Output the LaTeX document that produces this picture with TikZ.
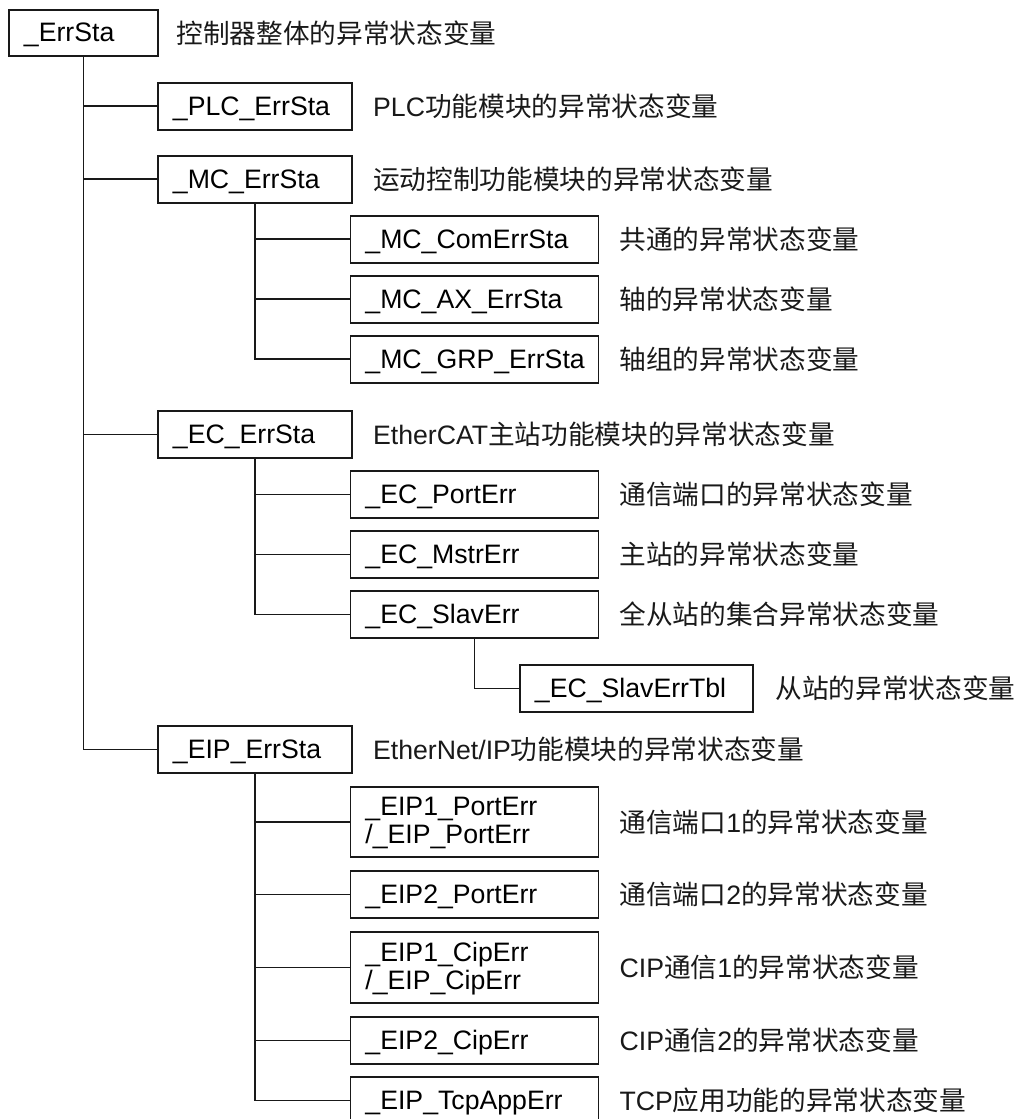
\documentclass[tikz,border=0pt]{standalone}
\usepackage{fontspec}
\setmainfont{Liberation Sans}
\newfontfamily\cjk{Noto Sans CJK SC}
\newcommand{\zh}[1]{{\cjk #1}}
\usepackage{xcolor}
\usepackage{tikz}
\usetikzlibrary{positioning}

\begin{document}
\begin{tikzpicture}[
    x=0.75pt, y=-0.75pt,
    varbox/.style={
        rectangle,
        draw=black!90,
        line width=1.4pt,
        anchor=north west,
        inner xsep=11.25pt,
        inner ysep=0pt,
        align=left,
        text height=18pt,
        text depth=4.5pt,
        minimum height=35.25pt,
        font=\fontsize{20}{21}\selectfont
    },
    twoline/.style={text height=18pt, text depth=27pt},
    rootbox/.style={varbox, text width=89.25pt, minimum height=34.5pt},
    lvlone/.style={varbox, text width=123pt},
    lvltwo/.style={varbox, text width=163.5pt},
    lvlthree/.style={varbox, text width=152.25pt},
    desc/.style={
        inner sep=0pt,
        anchor=west,
        text=black!90,
        font=\fontsize{20}{21}\selectfont
    },
    link/.style={draw=black!90, line width=1.4pt}
]
    \useasboundingbox (0,0) rectangle (1020,1119);

    % Variable boxes
    \node [rootbox] (root) at (8,9) {\_ErrSta};

    \node [lvlone] (plc) at (157,82) {\_PLC\_ErrSta};
    \node [lvlone] (mc) at (157,155) {\_MC\_ErrSta};
    \node [lvltwo] (mccom) at (349.5,215) {\_MC\_ComErrSta};
    \node [lvltwo] (mcax) at (349.5,275) {\_MC\_AX\_ErrSta};
    \node [lvltwo] (mcgrp) at (349.5,335) {\_MC\_GRP\_ErrSta};

    \node [lvlone] (ec) at (157,410) {\_EC\_ErrSta};
    \node [lvltwo] (ecport) at (349.5,470) {\_EC\_PortErr};
    \node [lvltwo] (ecmstr) at (349.5,530) {\_EC\_MstrErr};
    \node [lvltwo] (ecslav) at (349.5,590) {\_EC\_SlavErr};
    \node [lvlthree] (ecslavtbl) at (519,664) {\_EC\_SlavErrTbl};

    \node [lvlone] (eip) at (157,725) {\_EIP\_ErrSta};
    \node [lvltwo, twoline, minimum height=52.5pt] (eiponeport) at (349.5,786)
        {\parbox[t]{163.5pt}{\raggedright\_EIP1\_PortErr\\/\_EIP\_PortErr}};
    \node [lvltwo] (eiptwoport) at (349.5,870) {\_EIP2\_PortErr};
    \node [lvltwo, twoline, minimum height=53.25pt] (eiponecip) at (349.5,931)
        {\parbox[t]{163.5pt}{\raggedright\_EIP1\_CipErr\\/\_EIP\_CipErr}};
    \node [lvltwo] (eiptwocip) at (349.5,1016) {\_EIP2\_CipErr};
    \node [lvltwo] (eiptcp) at (349.5,1076) {\_EIP\_TcpAppErr};

    % Descriptions beside each box
    \node [desc, right=13pt of root.east] (droot) {\zh{控制器整体的异常状态变量}};
    \node [desc, right=15pt of plc.east] (dplc) {PLC\zh{功能模块的异常状态变量}};
    \node [desc, right=15pt of mc.east] (dmc) {\zh{运动控制功能模块的异常状态变量}};
    \node [desc, right=15pt of mccom.east] (dmccom) {\zh{共通的异常状态变量}};
    \node [desc, right=15pt of mcax.east] (dmcax) {\zh{轴的异常状态变量}};
    \node [desc, right=15pt of mcgrp.east] (dmcgrp) {\zh{轴组的异常状态变量}};
    \node [desc, right=15pt of ec.east] (dec) {EtherCAT\zh{主站功能模块的异常状态变量}};
    \node [desc, right=15pt of ecport.east] (decport) {\zh{通信端口的异常状态变量}};
    \node [desc, right=15pt of ecmstr.east] (decmstr) {\zh{主站的异常状态变量}};
    \node [desc, right=15pt of ecslav.east] (decslav) {\zh{全从站的集合异常状态变量}};
    \node [desc, right=16pt of ecslavtbl.east] (decslavtbl) {\zh{从站的异常状态变量}};
    \node [desc, right=15pt of eip.east] (deip) {EtherNet/IP\zh{功能模块的异常状态变量}};
    \node [desc, right=15pt of eiponeport.east] (deiponeport) {\zh{通信端口}1\zh{的异常状态变量}};
    \node [desc, right=15pt of eiptwoport.east] (deiptwoport) {\zh{通信端口}2\zh{的异常状态变量}};
    \node [desc, right=15pt of eiponecip.east] (deiponecip) {CIP\zh{通信}1\zh{的异常状态变量}};
    \node [desc, right=15pt of eiptwocip.east] (deiptwocip) {CIP\zh{通信}2\zh{的异常状态变量}};
    \node [desc, right=15pt of eiptcp.east] (deiptcp) {TCP\zh{应用功能的异常状态变量}};

    % Tree connections
    \draw [link] (root.south) |- (plc.west);
    \draw [link] (root.south) |- (mc.west);
    \draw [link] (root.south) |- (ec.west);
    \draw [link] (root.south) |- (eip.west);

    \draw [link] (mc.south) |- (mccom.west);
    \draw [link] (mc.south) |- (mcax.west);
    \draw [link] (mc.south) |- (mcgrp.west);

    \draw [link] (ec.south) |- (ecport.west);
    \draw [link] (ec.south) |- (ecmstr.west);
    \draw [link] (ec.south) |- (ecslav.west);
    \draw [link] (ecslav.south) |- (ecslavtbl.west);

    \draw [link] (eip.south) |- (eiponeport.west);
    \draw [link] (eip.south) |- (eiptwoport.west);
    \draw [link] (eip.south) |- (eiponecip.west);
    \draw [link] (eip.south) |- (eiptwocip.west);
    \draw [link] (eip.south) |- (eiptcp.west);

\end{tikzpicture}
\end{document}
